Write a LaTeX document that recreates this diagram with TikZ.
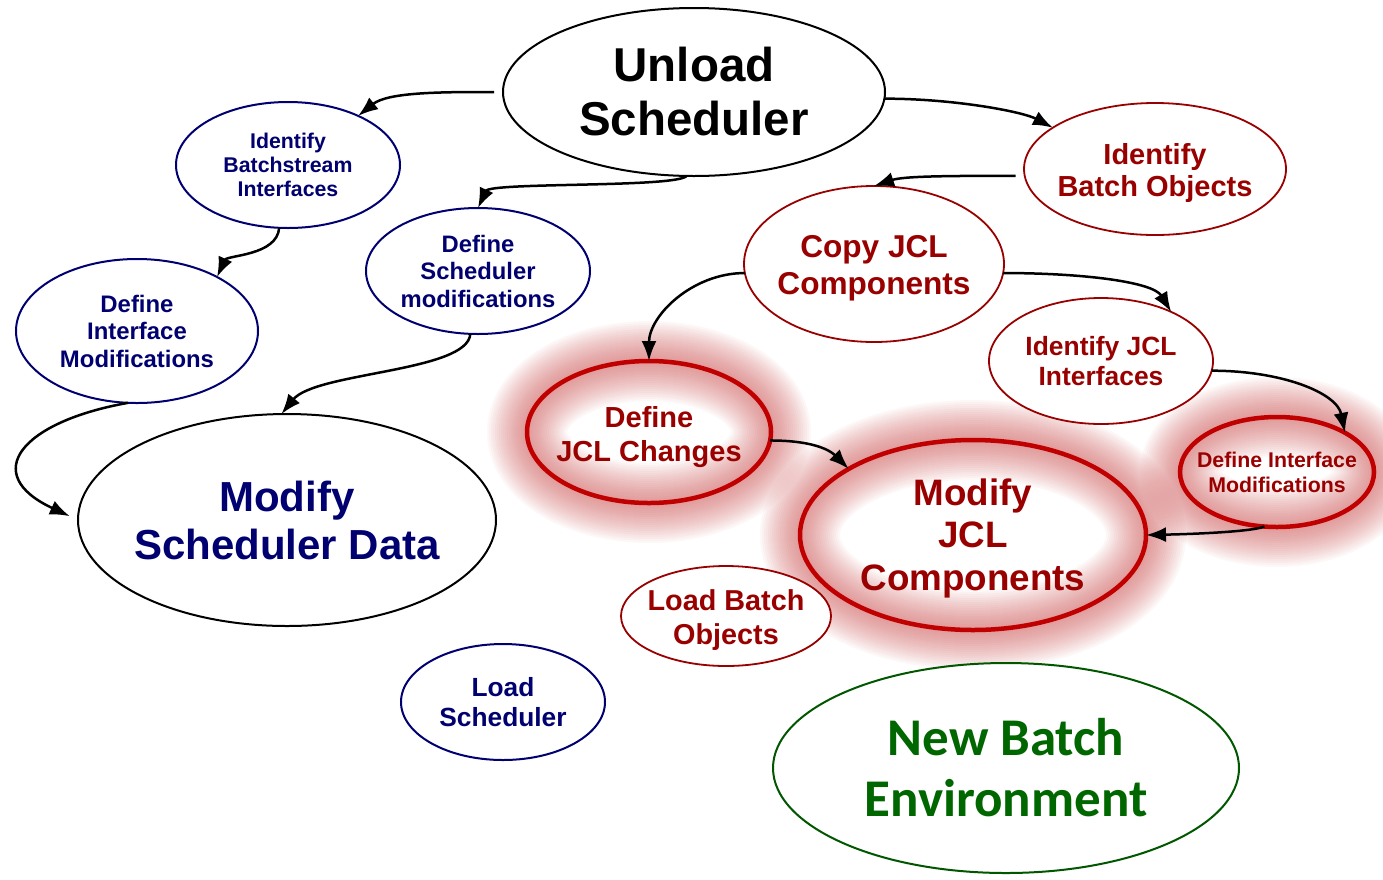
\documentclass[tikz,border=0pt]{standalone}
\usepackage{fontspec}
\setmainfont{Liberation Sans}
\newfontfamily\calibfont{Carlito}
\usetikzlibrary{shapes.geometric,arrows.meta}
\pgfdeclarelayer{glow layer}
\pgfsetlayers{glow layer,main}
\definecolor{navy}{HTML}{000070}
\definecolor{darkred}{HTML}{990000}
\definecolor{hotred}{HTML}{C00000}
\definecolor{leaf}{HTML}{006600}
\definecolor{glowred}{HTML}{C84848}
\newcommand\setfs[2]{\fontsize{#1}{#2}\selectfont}
\newcommand\glowring[3]{%
  \foreach \w in {4,8,...,80}
    \draw[glowred,line width=\w pt,opacity=0.04] (#1) ellipse [x radius=#2pt,y radius=#3pt];}

\begin{document}
\begin{tikzpicture}[x=1pt,y=-1pt,
  ell/.style={ellipse,inner sep=0pt,outer sep=0pt,line width=2pt},
  bluell/.style={ell,draw=navy,fill=white},
  redell/.style={ell,draw=darkred,line width=1.8pt,fill=white},
  hotell/.style={ell,draw=hotred,line width=4.5pt},
  lbl/.style={align=center},
  flow/.style={-{Latex[length=20pt,width=15pt]},line width=2.5pt}]
\useasboundingbox (0,0) rectangle (1383,879);

% scheduler side
\node (unload) [ell,draw=black,fill=white,minimum width=382pt,minimum height=168pt] at (694,92) {};
\node (idbs) [bluell,minimum width=224pt,minimum height=126pt] at (288,165) {};
\node (defif) [bluell,minimum width=242pt,minimum height=144pt] at (137,331) {};
\node (defsched) [bluell,minimum width=224pt,minimum height=126pt] at (478,271) {};
\node (modsched) [ell,draw=black,fill=white,minimum width=418pt,minimum height=212pt] at (287,520) {};
\node (loadsched) [bluell,minimum width=204pt,minimum height=116pt] at (503,702) {};

% batch side
\node (idbo) [redell,minimum width=262pt,minimum height=132pt] at (1155,169) {};
\node (copyjcl) [redell,minimum width=260pt,minimum height=156pt] at (874,264) {};
\node (idjcl) [redell,minimum width=224pt,minimum height=126pt] at (1101,361) {};
\node (defjcl) [hotell,minimum width=244pt,minimum height=142pt] at (649,432) {};
\node (modjcl) [hotell,minimum width=346pt,minimum height=190pt] at (973,535) {};
\node (defifj) [hotell,minimum width=194pt,minimum height=110pt] at (1277,472) {};
\node (loadbo) [redell,minimum width=210pt,minimum height=100pt] at (726,616) {};
\node (newenv) [ell,draw=leaf!85!black,fill=white,minimum width=466pt,minimum height=210pt] at (1006,768) {};

\begin{pgfonlayer}{glow layer}
\glowring{defjcl}{122}{71}
\glowring{modjcl}{173}{95}
\glowring{defifj}{97}{55}
\end{pgfonlayer}

% texts
\node (unloadtxt) at (unload) [lbl,font=\bfseries\setfs{47.5}{54}] {Unload\\Scheduler};
\node (idbstxt) at (idbs) [lbl,navy,font=\bfseries\setfs{21.3}{24}] {Identify\\Batchstream\\Interfaces};
\node (defiftxt) at (defif) [lbl,navy,font=\bfseries\setfs{23.9}{27.5}] {Define\\Interface\\Modifications};
\node (defschedtxt) at (defsched) [lbl,navy,font=\bfseries\setfs{23.8}{27.5}] {Define\\Scheduler\\modifications};
\node (modschedtxt) at (modsched) [lbl,navy,font=\bfseries\setfs{42}{48}] {Modify\\Scheduler Data};
\node (loadschedtxt) at (loadsched) [lbl,navy,font=\bfseries\setfs{26.3}{30}] {Load\\Scheduler};
\node (idbotxt) at (idbo) [lbl,darkred,yshift=-4pt,font=\bfseries\setfs{29}{32}] {Identify\\Batch Objects};
\node (copyjcltxt) at (copyjcl) [lbl,darkred,yshift=-4pt,font=\bfseries\setfs{31.6}{37}] {Copy JCL\\Components};
\node (idjcltxt) at (idjcl) [lbl,darkred,font=\bfseries\setfs{26.4}{30}] {Identify JCL\\Interfaces};
\node (defjcltxt) at (defjcl) [lbl,darkred,yshift=-5pt,font=\bfseries\setfs{29}{34}] {Define\\JCL Changes};
\node (modjcltxt) at (modjcl) [lbl,darkred,yshift=-3pt,font=\bfseries\setfs{36.8}{42.5}] {Modify\\JCL\\Components};
\node (defifjtxt) at (defifj) [lbl,darkred,font=\bfseries\setfs{21.3}{25}] {Define Interface\\Modifications};
\node (loadbotxt) at (loadbo) [lbl,darkred,yshift=-4pt,font=\bfseries\setfs{28.8}{34}] {Load Batch\\Objects};
\node (newenvtxt) at (newenv) [lbl,leaf,font=\calibfont\bfseries\setfs{53}{61}] {New Batch\\Environment};

% connectors
\draw[flow,shorten <=9pt] (unload.west) .. controls +(-60,0) and +(30,-24) .. (idbs.35);
\draw[flow] (unload.265) .. controls +(-11,12) and +(12,-26) .. (defsched.north);
\draw[flow] (idbs.262) .. controls +(-2,28) and +(10,-22) .. (defif.34);
\draw[flow,shorten >=9pt] (defif.263) .. controls +(-107,19) and +(-99,-46) .. (modsched.west);
\draw[flow] (defsched.263) .. controls +(-2,38) and +(34,-42) .. (modsched.93);
\draw[flow] (unload.-2) .. controls +(70,0) and +(-30,-16) .. (idbo.158);
\draw[flow,shorten <=9pt] (idbo.183) .. controls +(-75,0) and +(30,-10) .. (copyjcl.north);
\draw[flow] (copyjcl.184) .. controls +(-53,0) and +(0,-45) .. (defjcl.north);
\draw[flow] (copyjcl.-4) .. controls +(80,0) and +(-18,-30) .. (idjcl.35);
\draw[flow] (idjcl.-5) .. controls +(70,0) and +(-8,-40) .. (defifj.30);
\draw[flow] (defjcl.-4) .. controls +(40,0) and +(-20,-20) .. (modjcl.152);
\draw[flow] (defifj.257) .. controls +(-12,5) and +(50,-1) .. (modjcl.east);
\end{tikzpicture}
\end{document}
